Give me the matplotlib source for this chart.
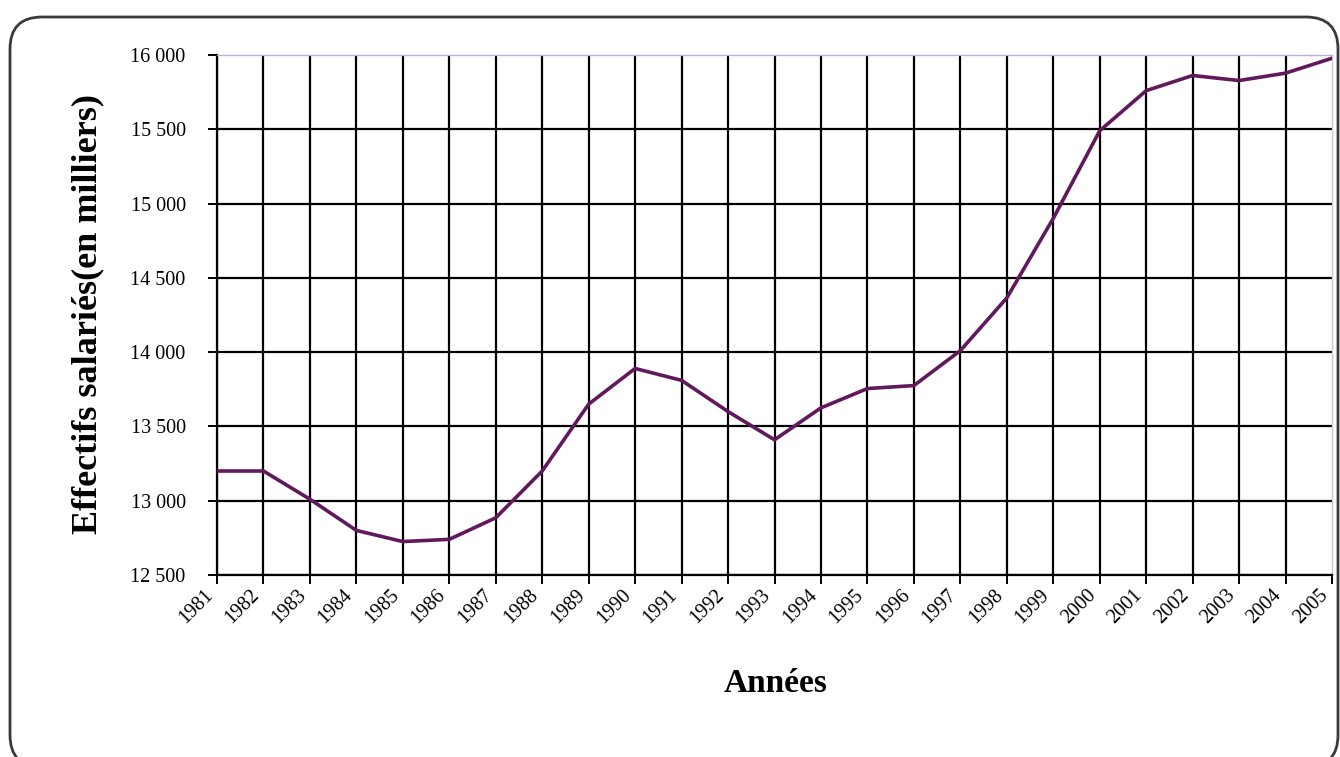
import matplotlib
matplotlib.use("Agg")
import matplotlib.pyplot as plt
from matplotlib.patches import FancyBboxPatch
from matplotlib.transforms import IdentityTransform
from matplotlib.ticker import FixedLocator, FuncFormatter

years = list(range(1981, 2006))
effectifs = [13200, 13200, 13010, 12800, 12725, 12740, 12885, 13200, 13650, 13890,
             13810, 13600, 13410, 13625, 13755, 13775, 14010, 14365, 14900, 15490,
             15760, 15862, 15828, 15878, 15978]
y_ticks = [12500, 13000, 13500, 14000, 14500, 15000, 15500, 16000]
y_label = "Effectifs salariés(en milliers)"
x_label = "Années"

plt.rcParams['font.family'] = ['Liberation Serif', 'DejaVu Serif']

W, H = 1340, 757
fig = plt.figure(figsize=(W / 100, H / 100), dpi=100)
fig.patch.set_facecolor('white')

# rounded frame (pixel coordinates)
frame = FancyBboxPatch((10, -10), 1328, H - 17 + 10, boxstyle="round,pad=0,rounding_size=32",
                       transform=IdentityTransform(), facecolor='none',
                       edgecolor='#3a3a3a', linewidth=2.0)
fig.patches.append(frame)

left, right, top, bottom = 217, 1332, 55, 575
ax = fig.add_axes([left / W, 1 - bottom / H, (right - left) / W, (bottom - top) / H])

ax.plot(years, effectifs, color='#62185c', linewidth=2.6, zorder=5, solid_joinstyle='round')

ax.set_xlim(1981, 2005)
ax.set_ylim(12500, 16000)
ax.xaxis.set_major_locator(FixedLocator(years))
ax.yaxis.set_major_locator(FixedLocator(y_ticks))
ax.yaxis.set_major_formatter(FuncFormatter(lambda v, p: f"{int(v):,}".replace(",", " ")))

ax.grid(True, color='black', linewidth=1.6)
ax.set_axisbelow(True)

for sp in ['left', 'bottom']:
    ax.spines[sp].set_color('black')
    ax.spines[sp].set_linewidth(1.6)
ax.spines['top'].set_color('#b8aee0')
ax.spines['top'].set_linewidth(1.0)
ax.spines['right'].set_color('#c8c8d8')
ax.spines['right'].set_linewidth(1.0)

ax.tick_params(axis='both', direction='out', length=6.5, width=1.4, color='black')
ax.tick_params(axis='y', labelsize=14.5, pad=16)
ax.tick_params(axis='x', labelsize=14.5, pad=1)
for lab in ax.get_xticklabels():
    lab.set_rotation(45)
    lab.set_ha('right')
    lab.set_va('top')

fig.canvas.draw()
xt = ax.xaxis.get_major_ticks()
xt[-1].gridline.set_visible(False)
yt = ax.yaxis.get_major_ticks()
yt[-1].gridline.set_visible(False)

fig.text(88 / W, 1 - 314 / H, y_label, rotation=90, ha='center', va='center',
         fontsize=26, fontweight='bold')
fig.text(776 / W, 1 - 684 / H, x_label, ha='center', va='center',
         fontsize=24, fontweight='bold')

fig.savefig('out.png', dpi=100, facecolor='white')
